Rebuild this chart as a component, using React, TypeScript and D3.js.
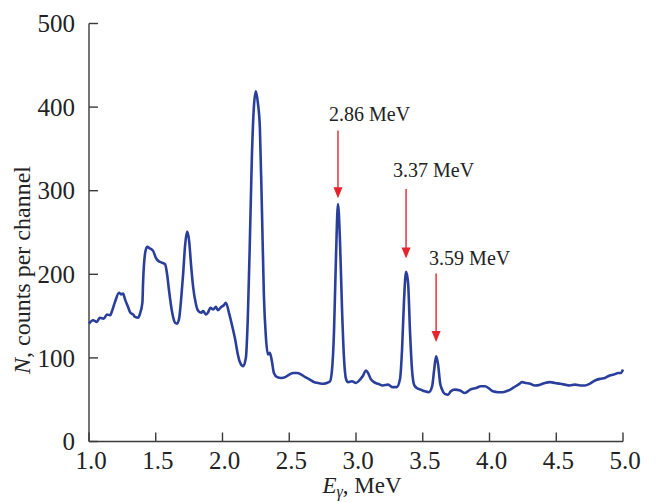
import React from "react";
import * as d3 from "d3";

const energies = [
  1.0, 1.03, 1.06, 1.08, 1.11, 1.135, 1.16, 1.17, 1.195, 1.225, 1.24, 1.255, 1.27, 1.29, 1.31, 1.33, 1.345, 1.37, 1.38,
  1.4, 1.405, 1.42, 1.435, 1.455, 1.48, 1.5, 1.52, 1.545, 1.57, 1.585, 1.6, 1.62, 1.645, 1.66, 1.675, 1.69, 1.705, 1.72,
  1.735, 1.75, 1.765, 1.78, 1.8, 1.815, 1.84, 1.855, 1.875, 1.89, 1.91, 1.93, 1.95, 1.965, 1.99, 2.01, 2.025, 2.05, 2.07,
  2.095, 2.115, 2.13, 2.155, 2.175, 2.19, 2.205, 2.22, 2.235, 2.25, 2.265, 2.28, 2.295, 2.31, 2.325, 2.34, 2.355, 2.37,
  2.385, 2.41, 2.44, 2.47, 2.5, 2.53, 2.56, 2.59, 2.62, 2.655, 2.685, 2.715, 2.755, 2.78, 2.805, 2.82, 2.835, 2.85, 2.865,
  2.88, 2.895, 2.91, 2.925, 2.94, 2.97, 3.0, 3.03, 3.05, 3.075, 3.09, 3.11, 3.135, 3.165, 3.2, 3.24, 3.275, 3.305, 3.33,
  3.345, 3.36, 3.375, 3.39, 3.405, 3.42, 3.435, 3.455, 3.485, 3.515, 3.545, 3.57, 3.585, 3.6, 3.615, 3.63, 3.645, 3.665,
  3.69, 3.71, 3.74, 3.78, 3.815, 3.855, 3.9, 3.935, 3.965, 4.0, 4.025, 4.065, 4.1, 4.14, 4.175, 4.215, 4.245, 4.275, 4.305,
  4.34, 4.38, 4.415, 4.455, 4.49, 4.53, 4.565, 4.6, 4.64, 4.68, 4.715, 4.75, 4.79, 4.83, 4.865, 4.9, 4.93, 4.965, 4.985, 5.0,
];

const counts = [
  141, 145, 143, 148, 147, 152, 151, 155, 167, 178, 176, 177, 170, 162, 154, 152, 149, 148, 152,
  166, 190, 225, 233, 231, 228, 220, 216, 214, 212, 200, 180, 157, 142, 141, 147, 170, 200, 235,
  251, 240, 210, 185, 165, 157, 154, 156, 152, 154, 160, 158, 161, 157, 161, 163, 166, 153, 140,
  122, 104, 95, 90, 100, 150, 240, 340, 400, 419, 405, 375, 280, 175, 125, 104, 106, 96,
  82, 77, 76, 77, 80, 82, 82, 80, 77, 74, 71, 70, 69, 70, 72, 85, 130, 220, 284,
  240, 160, 100, 75, 71, 72, 70, 74, 78, 85, 82, 75, 71, 69, 67, 68, 65, 65, 75,
  110, 170, 203, 190, 130, 85, 68, 64, 62, 60, 59, 66, 85, 102, 92, 70, 62, 57,
  56, 60, 62, 61, 58, 62, 64, 66, 66, 63, 60, 59, 59, 61, 64, 68, 71, 70, 69,
  67, 68, 70, 71, 70, 69, 68, 67, 68, 67, 67, 69, 73, 75, 76, 79, 80, 82, 82, 86,
];

const xTicks = [1.0, 1.5, 2.0, 2.5, 3.0, 3.5, 4.0, 4.5, 5.0];
const yTicks = [0, 100, 200, 300, 400, 500];

const markEnergies = [2.865, 3.375, 3.6];
const markLabels = ["2.86 MeV", "3.37 MeV", "3.59 MeV"];
const markTops = [372, 302, 201];
const markTips = [291, 219, 119];
const markTextN = [383, 316, 211];
const markTextShift = [-9, -13, -7];

const W = 656;
const H = 502;
const FONT = '"Liberation Serif", "DejaVu Serif", "Times New Roman", serif';

export default function App() {
  const x = d3.scaleLinear().domain([1, 5]).range([89, 623]);
  const y = d3.scaleLinear().domain([0, 500]).range([441.5, 23.5]);
  const data = energies.map((e, i) => [e, counts[i]] as [number, number]);
  const line = d3
    .line<[number, number]>()
    .x((d) => x(d[0]))
    .y((d) => y(d[1]))
    .curve(d3.curveMonotoneX);
  const axisColor = "#3a3a3a";
  const red = "#e5232d";
  const txt = { fontFamily: FONT } as React.CSSProperties;

  return (
    <svg
      width={W}
      height={H}
      viewBox={`0 0 ${W} ${H}`}
      style={{ position: "absolute", left: 0, top: 0, background: "#fff", fontFamily: FONT }}
    >
      {/* axes */}
      <line x1={x(1)} x2={x(1)} y1={y(500)} y2={y(0)} stroke={axisColor} strokeWidth={1.4} />
      <line x1={x(1)} x2={x(5)} y1={y(0)} y2={y(0)} stroke={axisColor} strokeWidth={1.4} />
      {yTicks.map((t) => (
        <g key={"y" + t}>
          <line x1={x(1)} x2={x(1) + 9} y1={y(t)} y2={y(t)} stroke={axisColor} strokeWidth={1.4} />
          <text style={txt} x={x(1) - 14} y={y(t)} dy="0.35em" textAnchor="end" fontSize={25} fill="#222">
            {t}
          </text>
        </g>
      ))}
      {xTicks.map((t) => (
        <g key={"x" + t}>
          <line x1={x(t)} x2={x(t)} y1={y(0)} y2={y(0) - 9} stroke={axisColor} strokeWidth={1.4} />
          <text style={txt} x={x(t) + 2} y={469} textAnchor="middle" fontSize={25} fill="#222">
            {t.toFixed(1)}
          </text>
        </g>
      ))}
      {/* axis titles */}
      <text style={txt} x={362} y={493} textAnchor="middle" fontSize={23} fill="#222">
        <tspan fontStyle="italic">E</tspan>
        <tspan fontStyle="italic" fontSize={16} dy={4}>γ</tspan>
        <tspan dy={-4}>, MeV</tspan>
      </text>
      <text
        style={txt}
        transform={`translate(30, 270) rotate(-90)`}
        textAnchor="middle"
        fontSize={24}
        fill="#222"
      >
        <tspan fontStyle="italic">N</tspan>
        <tspan>, counts per channel</tspan>
      </text>

      {/* spectrum */}
      <path d={line(data) || ""} fill="none" stroke="#2a3f9b" strokeWidth={2.6} strokeLinejoin="round" />

      {/* annotations */}
      {markEnergies.map((e, i) => {
        const ax = x(e);
        const yt = y(markTops[i]);
        const yb = y(markTips[i]);
        return (
          <g key={"m" + i}>
            <line x1={ax} x2={ax} y1={yt} y2={yb - 9} stroke={red} strokeWidth={1.4} />
            <polygon points={`${ax - 4.5},${yb - 11} ${ax + 4.5},${yb - 11} ${ax},${yb}`} fill={red} />
            <text style={txt} x={ax + markTextShift[i]} y={y(markTextN[i])} fontSize={20} fill="#222">
              {markLabels[i]}
            </text>
          </g>
        );
      })}
    </svg>
  );
}
